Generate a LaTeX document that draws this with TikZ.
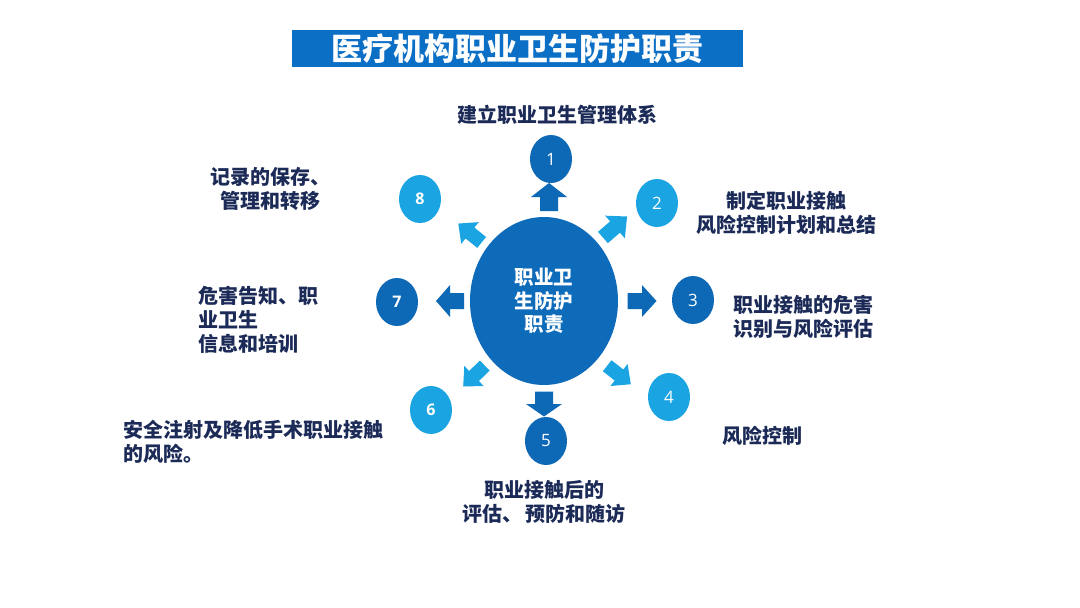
\documentclass[tikz,border=0pt]{standalone}
\usepackage{fontspec}
\usetikzlibrary{shapes.geometric}
\newfontfamily\cjk{Noto Sans CJK SC}
\newfontfamily\dig{Open Sans}
\definecolor{titleblue}{HTML}{0B6FC6}
\definecolor{darkblue}{HTML}{0D68B6}
\definecolor{lightblue}{HTML}{1BA4E2}
\definecolor{centerblue}{HTML}{0E6BBA}
\definecolor{navy}{HTML}{1B2A57}
\newcommand\barrow[5]{% center, angle, colour, length, head width
  \fill[#3, shift={#1}, rotate=#2]
    (-#4/2,-#5/4) -- (0,-#5/4) -- (0,-#5/2) -- (#4/2,0) -- (0,#5/2) -- (0,#5/4) -- (-#4/2,#5/4) -- cycle;}
\begin{document}
\begin{tikzpicture}[x=1pt,y=-1pt,
  circ/.style={ellipse, minimum width=42pt, minimum height=48pt, inner sep=0pt, text=white, font=\dig\fontsize{17}{17}\selectfont},
  dk/.style={circ, fill=darkblue},
  lt/.style={circ, fill=lightblue},
  lbl/.style={text=navy, font=\cjk\bfseries\fontsize{20}{24}\selectfont, inner sep=0pt}]
\useasboundingbox[fill=white] (0,0) rectangle (1080,608);
% title
\node[fill=titleblue, minimum width=451pt, minimum height=37pt, inner sep=0pt, text=white,
  font=\cjk\bfseries\fontsize{31}{31}\selectfont] (title) at (517.5,48.5) {医疗机构职业卫生防护职责};
% centre
\node[ellipse, fill=centerblue, minimum width=148pt, minimum height=168pt, inner sep=0pt,
  text=white, align=center, font=\cjk\bfseries\fontsize{19.5}{23.5}\selectfont] (c) at (544,301)
  {职业卫\\生防护\\职责};
% circles
\node[dk] (n1) at (551,159) {1};
\node[lt] (n2) at (657,203) {2};
\node[dk] (n3) at (693,300) {3};
\node[lt] (n4) at (669,397) {4};
\node[dk] (n5) at (546,441) {5};
\node[lt, font=\dig\bfseries\fontsize{16}{16}\selectfont] (n6) at (431,410) {6};
\node[dk, font=\dig\bfseries\fontsize{16}{16}\selectfont] (n7) at (397,302) {7};
\node[lt, font=\dig\bfseries\fontsize{16}{16}\selectfont] (n8) at (420,199) {8};
% block arrows
\barrow{(549,197)}{90}{darkblue}{28}{36}
\barrow{(615,227)}{41}{lightblue}{32}{30}
\barrow{(642,301)}{0}{darkblue}{29}{32}
\barrow{(619,375)}{-38}{lightblue}{30}{28}
\barrow{(544,404)}{-90}{darkblue}{25}{36}
\barrow{(474,376)}{-136}{lightblue}{30}{28}
\barrow{(450,301)}{180}{darkblue}{28}{32}
\barrow{(470,233)}{141}{lightblue}{30}{28}
% labels
\node[lbl] (l1) at (557,115) {建立职业卫生管理体系};
\node[lbl, align=center] (l2) at (786,213) {制定职业接触\\风险控制计划和总结};
\node[lbl, align=left, anchor=west] (l3) at (733,317) {职业接触的危害\\识别与风险评估};
\node[lbl, anchor=west] (l4) at (722,436) {风险控制};
\node[lbl, align=center] (l5) at (544,502) {职业接触后的\\评估、\,预防和随访};
\node[lbl, align=left, anchor=west] (l6) at (123,442) {安全注射及降低手术职业接触\\的风险。};
\node[lbl, align=left, anchor=west] (l7) at (198,320) {危害告知、职\\业卫生\\信息和培训};
\node[lbl, align=center] (l8) at (270,189) {记录的保存、\\管理和转移};
\end{tikzpicture}
\end{document}
